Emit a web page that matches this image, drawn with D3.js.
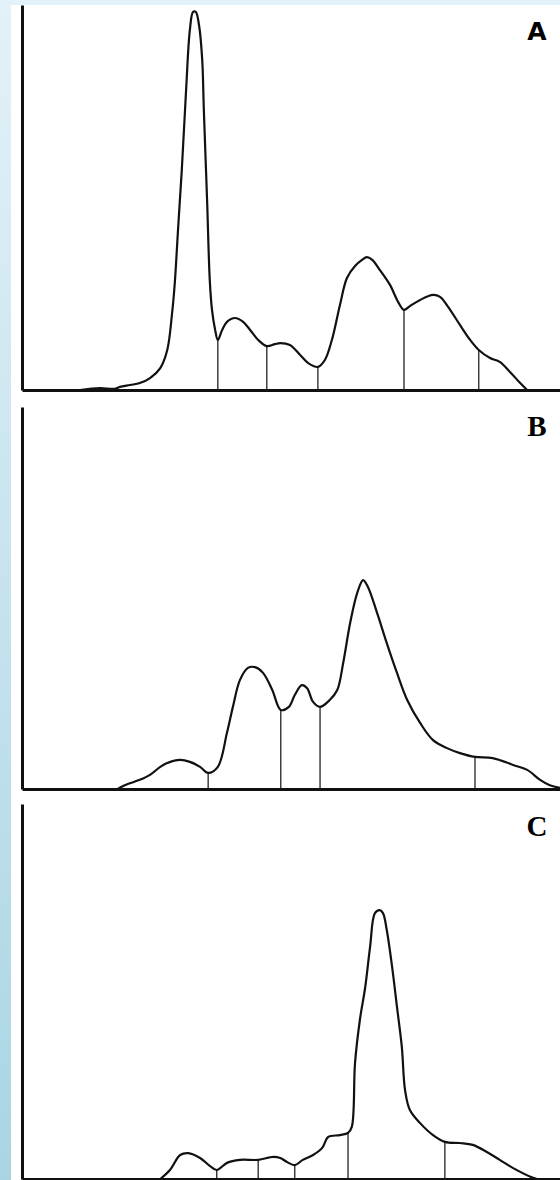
<!DOCTYPE html>
<html>
<head>
<meta charset="utf-8">
<script src="https://cdn.jsdelivr.net/npm/d3@7"></script>
<style>
  html, body { margin: 0; padding: 0; background: #fff; }
  svg { display: block; }
  .axis path.domain { stroke: #111; stroke-width: 3px; }
  .trace { fill: none; stroke: #111; stroke-width: 2.2px; stroke-linejoin: round; }
  .cut { stroke: #222; stroke-width: 1.3px; }
  .tag { font-weight: bold; fill: #000; text-anchor: middle; }
</style>
</head>
<body>
<svg id="graph"></svg>
<script>
// densitometric scans, x = relative mobility (0-100), y = relative absorbance (0-100)
var scanA = [
  [10.8,0],[12.6,0.3],[14.5,0.5],[17.3,0.3],[18.2,0.8],[20.1,1.3],[21.9,1.8],[23.8,3.1],
  [25.7,5.7],[27.0,10.4],[27.9,20.0],[28.4,27.8],[29.0,41.6],[29.7,57.1],[30.5,77.9],
  [31.2,93.5],[31.8,98.2],[32.3,98.2],[32.9,94.8],[33.5,85.7],[33.8,72.7],[34.4,49.4],
  [34.9,28.6],[35.3,21.0],[35.9,15.6],[36.4,13.0],[37.2,15.6],[38.1,17.7],
  [39.6,18.7],[41.1,17.7],[42.4,15.6],[43.9,13.0],[45.5,11.4],[47.0,11.9],[48.0,12.2],
  [49.8,11.7],[51.7,9.1],[53.2,7.0],[55.0,6.0],[56.3,7.8],[57.6,13.0],[59.1,22.1],
  [60.4,29.1],[61.9,32.2],[63.2,33.8],[64.1,34.5],[65.1,33.8],[66.5,31.2],[68.4,27.3],
  [69.9,22.9],[71.0,20.8],[72.1,21.8],[74.0,23.4],[76.4,24.7],[77.7,24.2],[79.2,21.6],
  [81.4,16.9],[83.3,13.0],[84.9,10.4],[87.0,8.3],[88.8,7.3],[90.7,4.7],[92.6,1.8],[93.9,0]
];
var cutsA = [36.4, 45.5, 55.0, 71.0, 84.9];

var scanB = [
  [17.8,0],[19.1,1.0],[21.9,2.4],[23.8,3.7],[25.7,5.8],[27.0,6.8],[29.4,7.6],[31.2,7.1],
  [33.1,5.8],[34.6,4.2],[36.4,5.8],[38.1,14.7],[39.2,21.5],[40.5,28.5],[42.0,31.7],
  [43.3,31.9],[44.8,30.4],[46.5,26.0],[48.1,20.7],[49.6,21.5],[50.7,24.6],[52.0,27.2],
  [53.0,26.4],[54.1,22.8],[55.4,21.5],[57.2,23.3],[58.6,25.9],[59.7,33.0],[61.0,43.5],
  [62.3,51.3],[63.4,54.7],[64.3,52.9],[66.0,46.1],[67.8,38.2],[69.7,30.4],[71.6,23.3],
  [74.0,17.3],[76.4,12.8],[79.0,10.7],[81.4,9.4],[84.2,8.4],[87.5,8.1],[91.3,6.3],
  [93.9,5.0],[96.3,2.4],[98.1,1.0],[100,0.3]
];
var cutsB = [34.6, 48.1, 55.4, 84.2];

var scanC = [
  [25.7,0],[27.5,2.4],[29.4,6.4],[30.9,6.9],[33.1,5.6],[34.9,3.5],[36.2,2.4],[38.1,4.3],
  [40.5,5.1],[43.9,5.1],[46.7,5.9],[48.0,5.6],[49.3,4.5],[50.7,3.7],[52.2,5.1],[54.1,6.4],
  [55.8,8.3],[56.9,11.2],[59.1,11.7],[60.6,12.3],[61.3,13.9],[61.9,30.9],[62.8,42.4],
  [63.8,51.2],[64.7,61.9],[65.6,70.9],[66.5,71.7],[67.1,70.9],[67.8,66.4],[68.8,56.5],
  [69.7,45.9],[70.6,35.2],[71.2,23.7],[72.1,18.4],[74.0,14.9],[76.4,11.7],[78.6,9.9],
  [81.4,9.6],[83.8,9.1],[86.4,7.2],[88.8,5.1],[91.3,2.9],[95.0,0.3],[95.7,0]
];
var cutsC = [36.2, 43.9, 50.7, 60.6, 78.6];

var panelLabels = ["A", "B", "C"];

var W = 560, H = 1180;
var svg = d3.select("#graph").attr("width", W).attr("height", H);

// framing background: pale blue strip on top, deeper blue on the left
var defs = svg.append("defs");
var grad = defs.append("linearGradient").attr("id", "side")
  .attr("x1", 0).attr("y1", 0).attr("x2", 0).attr("y2", 1);
grad.append("stop").attr("offset", "0%").attr("stop-color", "#e3f1f8");
grad.append("stop").attr("offset", "100%").attr("stop-color", "#a9d5e3");

svg.append("rect").attr("width", W).attr("height", H).attr("fill", "url(#side)");
svg.append("rect").attr("x", 11).attr("y", 0).attr("width", W - 11).attr("height", 5).attr("fill", "#e3f1f8");
svg.append("rect").attr("x", 11).attr("y", 5).attr("width", W - 11).attr("height", H - 5).attr("fill", "#fff");

var x = d3.scaleLinear().domain([0, 100]).range([22, 560]);

var panels = [
  {data: scanA, cuts: cutsA, top: 5, bottom: 390, font: "'DejaVu Sans', sans-serif", size: 25, ly: 40},
  {data: scanB, cuts: cutsB, top: 407, bottom: 789, font: "'Liberation Serif', serif", size: 29, ly: 436},
  {data: scanC, cuts: cutsC, top: 804, bottom: 1179, font: "'Liberation Serif', serif", size: 29, ly: 836}
];

panels.forEach(function(p, i) {
  var y = d3.scaleLinear().domain([0, 100]).range([p.bottom, p.top]);
  var g = svg.append("g").attr("class", "panel");

  // height of the trace at each cut position
  var lookup = function(xv) {
    var pt = p.data.find(function(d) { return d[0] === xv; });
    return pt ? pt[1] : 0;
  };

  g.selectAll("line.cut")
    .data(p.cuts)
    .enter().append("line")
      .attr("class", "cut")
      .attr("x1", function(d) { return x(d); })
      .attr("x2", function(d) { return x(d); })
      .attr("y1", y(0))
      .attr("y2", function(d) { return y(lookup(d)); });

  var line = d3.line()
    .x(function(d) { return x(d[0]); })
    .y(function(d) { return y(d[1]); })
    .curve(d3.curveCatmullRom.alpha(0.5));

  g.append("path")
    .datum(p.data)
    .attr("class", "trace")
    .attr("d", line);

  g.append("g")
    .attr("class", "axis")
    .attr("transform", "translate(0," + p.bottom + ")")
    .call(d3.axisBottom(x).ticks(0).tickSizeOuter(0));

  g.append("g")
    .attr("class", "axis")
    .attr("transform", "translate(22,0)")
    .call(d3.axisLeft(y).ticks(0).tickSizeOuter(0));

  g.append("text")
    .attr("class", "tag")
    .attr("x", 537)
    .attr("y", p.ly)
    .style("font-family", p.font)
    .style("font-size", p.size + "px")
    .text(panelLabels[i]);
});
</script>
</body>
</html>
